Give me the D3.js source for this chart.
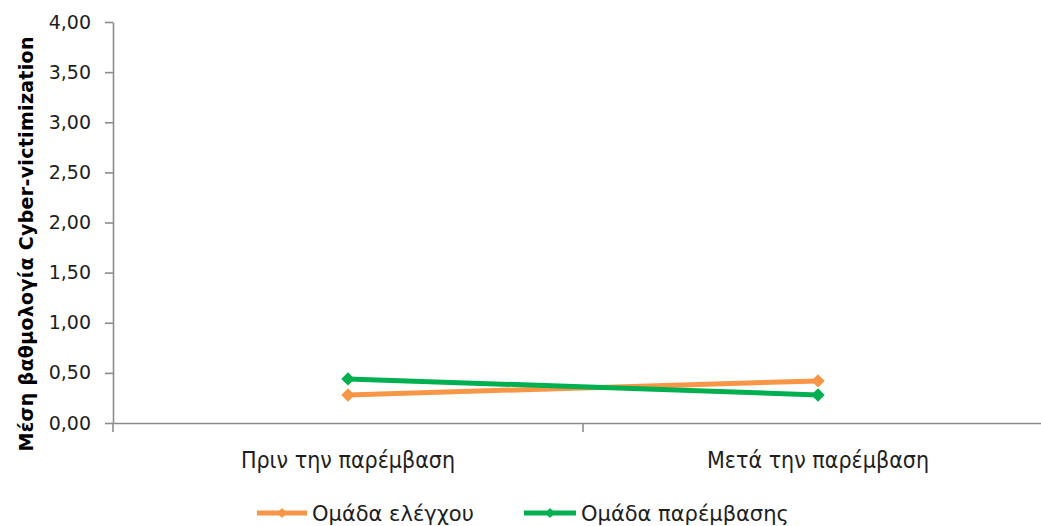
<!DOCTYPE html>
<html>
<head>
<meta charset="utf-8">
<script src="https://cdn.jsdelivr.net/npm/d3@7"></script>
<style>
  html, body { margin: 0; padding: 0; background: #fff; }
  svg { display: block; }
</style>
</head>
<body>
<svg id="chart" width="1041" height="526"></svg>
<script>
// Mean cyber-victimization score, before / after the intervention
const categories = ["Πριν την παρέμβαση", "Μετά την παρέμβαση"];
const controlGroup = [0.28, 0.42];       // Ομάδα ελέγχου
const interventionGroup = [0.44, 0.28];  // Ομάδα παρέμβασης
const yTicks = [0, 0.5, 1, 1.5, 2, 2.5, 3, 3.5, 4];
const seriesNames = ["Ομάδα ελέγχου", "Ομάδα παρέμβασης"];
const seriesColors = ["#F79646", "#00B050"];

const series = [
  { name: seriesNames[0], values: controlGroup, color: seriesColors[0] },
  { name: seriesNames[1], values: interventionGroup, color: seriesColors[1] }
];

const svg = d3.select("#chart");
const plotLeft = 113, plotRight = 1053, plotTop = 22, plotBottom = 423;
const axisColor = "#8c8c8c";
const textColor = "#1e1e1e";
const labelFont = "Verdana, 'DejaVu Sans', sans-serif";

const x = d3.scaleBand().domain(categories).range([plotLeft, plotRight]);
const y = d3.scaleLinear().domain([0, 4]).range([plotBottom, plotTop]);
const fmt = v => d3.format(".2f")(v).replace(".", ",");

// Value axis
const yAxis = svg.append("g")
  .attr("transform", `translate(${plotLeft},0)`)
  .call(d3.axisLeft(y).tickValues(yTicks).tickFormat(fmt).tickSize(8).tickPadding(14).tickSizeOuter(0));
yAxis.select(".domain").attr("stroke", axisColor).attr("stroke-width", 1.6);
yAxis.selectAll(".tick line").attr("stroke", axisColor).attr("stroke-width", 1.6);
yAxis.selectAll(".tick text")
  .attr("fill", textColor).style("font-family", labelFont).style("font-size", "19px");

// Category axis
const xAxis = svg.append("g")
  .attr("transform", `translate(0,${plotBottom})`)
  .call(d3.axisBottom(x).tickSize(0).tickPadding(29).tickSizeOuter(0));
xAxis.select(".domain").attr("stroke", axisColor).attr("stroke-width", 1.6);
xAxis.selectAll(".tick text")
  .attr("fill", textColor)
  .style("font-family", "'DejaVu Sans Condensed', 'DejaVu Sans', sans-serif")
  .style("font-size", "23px");
// Boundary tick marks between categories
const bounds = [plotLeft, plotLeft + x.step(), plotRight];
xAxis.selectAll(".bound").data(bounds).enter().append("line")
  .attr("x1", d => d).attr("x2", d => d).attr("y1", 0).attr("y2", 9)
  .attr("stroke", axisColor).attr("stroke-width", 1.6);

// Axis title
svg.append("text")
  .attr("transform", `translate(33,244) rotate(-90)`)
  .attr("text-anchor", "middle")
  .attr("textLength", 415).attr("lengthAdjust", "spacing")
  .style("font-family", "Verdana, 'DejaVu Sans', sans-serif")
  .style("font-size", "19px").style("font-weight", "bold")
  .attr("fill", "#000")
  .text("Μέση βαθμολογία  Cyber-victimization");

const cx = d => x(d) + x.bandwidth() / 2;
const line = d3.line().x((d, i) => cx(categories[i])).y(d => y(d));
const marker = d3.symbol().type(d3.symbolSquare).size(90);

// Series lines and markers
series.forEach(s => {
  const g = svg.append("g");
  g.append("path").datum(s.values)
    .attr("d", line).attr("fill", "none")
    .attr("stroke", s.color).attr("stroke-width", 5).attr("stroke-linejoin", "round");
  g.selectAll("path.m").data(s.values).enter().append("path").attr("class", "m")
    .attr("d", marker)
    .attr("transform", (d, i) => `translate(${cx(categories[i])},${y(d)}) rotate(45)`)
    .attr("fill", s.color);
});

// Legend
const legendItems = [
  { x0: 257, x1: 307, tx: 312 },
  { x0: 524, x1: 576, tx: 581 }
];
const legend = svg.append("g").attr("transform", "translate(0,513)");
series.forEach((s, i) => {
  const p = legendItems[i];
  const g = legend.append("g");
  g.append("line").attr("x1", p.x0).attr("x2", p.x1).attr("y1", 0).attr("y2", 0)
    .attr("stroke", s.color).attr("stroke-width", 5);
  g.append("path").attr("d", d3.symbol().type(d3.symbolSquare).size(50))
    .attr("transform", `translate(${(p.x0 + p.x1) / 2},0) rotate(45)`).attr("fill", s.color);
  g.append("text").attr("x", p.tx).attr("y", 8)
    .style("font-family", labelFont).style("font-size", "21px")
    .attr("fill", textColor).text(s.name);
});
</script>
</body>
</html>
